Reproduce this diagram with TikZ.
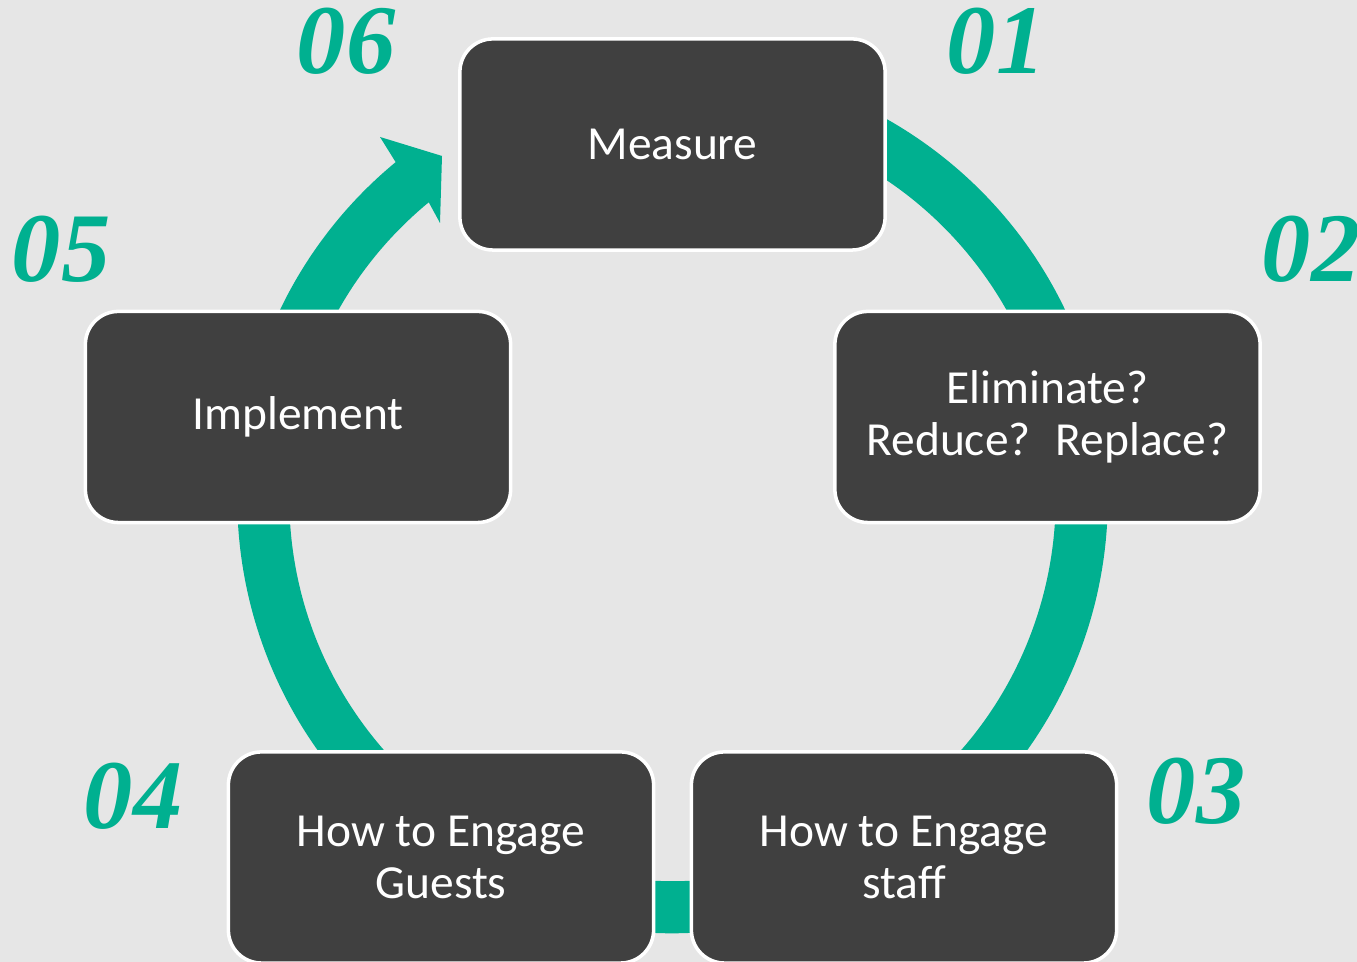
\documentclass[tikz,border=0pt]{standalone}
\usepackage{fontspec}
\setmainfont{Carlito}
\newfontfamily\numfont{Liberation Serif}
\usetikzlibrary{calc}
\definecolor{cyc_bg}{RGB}{230,230,230}
\definecolor{cyc_box}{RGB}{64,64,64}
\definecolor{cyc_teal}{RGB}{0,176,144}
\tikzstyle{stepbox}=[rectangle,rounded corners=0.33cm,fill=cyc_box,draw=white,
  line width=1pt,minimum width=4.25cm,minimum height=2.11cm,text=white,
  align=center,font=\fontsize{13.5}{14.8}\selectfont]
\tikzstyle{num}=[text=cyc_teal,inner sep=0pt,
  font=\fontsize{28}{30}\selectfont\numfont\bfseries\itshape]

\begin{document}
\begin{tikzpicture}[x=0.01cm,y=0.01cm]
    \fill[cyc_bg] (0,0) rectangle (1357,962);
    \useasboundingbox (0,0) rectangle (1357,962);
    \coordinate (c) at (672.5,464);
    % ring, ends in the head at the top left
    \fill[cyc_teal] ($(c)+(100:4.35cm)$) arc[start angle=100,end angle=-230.5,radius=4.35cm]
      -- (380,825) -- (442,806) -- (440,739)
      -- ($(c)+(129.5:3.83cm)$) arc[start angle=129.5,end angle=460,radius=3.83cm] -- cycle;
    \node [style=stepbox] (measure) at (672.5,817.5) {Measure};
    \node [style=stepbox] (elim) at (1047.5,545) {Eliminate?\\Reduce?~ Replace?};
    \node [style=stepbox] (staff) at (904,104.5) {How to Engage\\staff};
    \node [style=stepbox] (guests) at (441,104.5) {How to Engage\\Guests};
    \node [style=stepbox] (implement) at (298,545) {Implement};
    \node [style=num] (n01) at (996,921) {01};
    \node [style=num] (n02) at (1311,713) {02};
    \node [style=num] (n03) at (1196,171) {03};
    \node [style=num] (n04) at (133,166) {04};
    \node [style=num] (n05) at (61,713) {05};
    \node [style=num] (n06) at (346,921) {06};
  \end{tikzpicture}
\end{document}
